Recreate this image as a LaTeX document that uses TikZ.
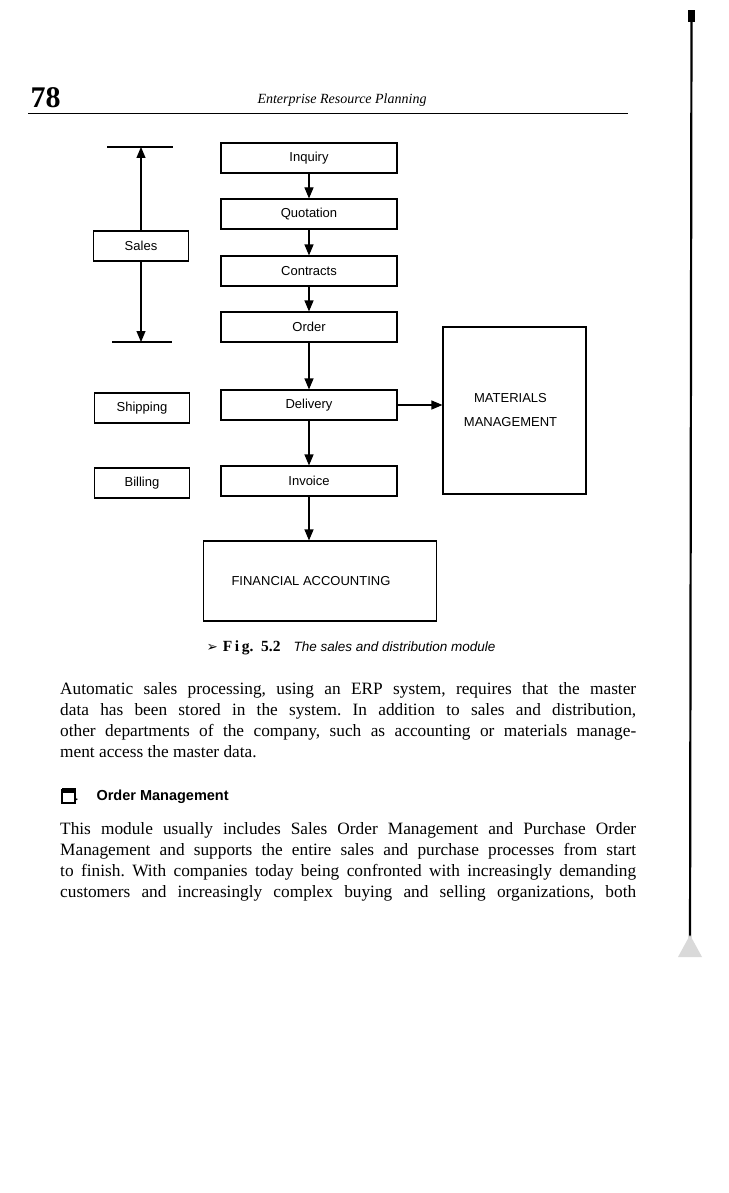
\documentclass[tikz,border=0pt]{standalone}
\usepackage{fontspec}
\setmainfont{Liberation Serif}
\setsansfont{Liberation Sans}
\newfontfamily\symfont{DejaVu Sans}
\usetikzlibrary{arrows.meta,positioning}
\frenchspacing

\tikzset{
  stagebox/.style={draw, line width=1.1pt, minimum width=176pt, minimum height=30pt,
    inner sep=0pt, font=\sffamily\fontsize{13}{15}\selectfont},
  sidebox/.style={stagebox, minimum width=95pt},
  bigbox/.style={stagebox, align=center},
  flow/.style={->, line width=1.1pt},
  bodytext/.style={anchor=north west, text width=576pt, align=justify, inner sep=0pt,
    font=\fontsize{17.3}{21}\selectfont}
}

\begin{document}
\begin{tikzpicture}[x=1pt, y=-1pt, >={Triangle[length=11pt,width=9pt]},
  node distance=56pt, on grid]
\useasboundingbox (0,0) rectangle (728,1193);
\fill[white] (0,0) rectangle (728,1193);

% running head
\node [anchor=base west, font=\bfseries\fontsize{30}{30}\selectfont] (pageno) at (27,108) {78};
\node [anchor=base, font=\itshape\fontsize{14}{16}\selectfont] (runhead) at (342,104) {Enterprise Resource Planning};
\draw [line width=1pt] (28,114) -- (628,114);

% the sales chain
\node [stagebox] (inquiry) at (309,158) {Inquiry};
\node [stagebox] (quotation) [below = of inquiry] {Quotation};
\node [stagebox] (contracts) [below = 57pt of quotation] {Contracts};
\node [stagebox] (order) [below = of contracts] {Order};
\node [stagebox] (delivery) [below = 78pt of order] {Delivery};
\node [stagebox] (invoice) [below = 76pt of delivery] {Invoice};
\node [bigbox, minimum width=233pt, minimum height=80pt] (finance) at (320,581) {FINANCIAL ACCOUNTING\hspace*{18pt}};
\node [bigbox, minimum width=143pt, minimum height=167pt,
  font=\sffamily\fontsize{13}{24}\selectfont] (materials) at (514.5,410.5) {MATERIALS\hspace*{8pt}\\MANAGEMENT\hspace*{8pt}};

% phases on the left
\node [sidebox] (sales) at (141,246) {Sales};
\node [sidebox] (shipping) at (142,408) {Shipping};
\node [sidebox] (billing) at (142,483) {Billing};
\coordinate (salestop) at (141,147);
\coordinate (salesend) at (141,342);

\path [flow]
(inquiry) edge (quotation)
(quotation) edge (contracts)
(contracts) edge (order)
(order) edge (delivery)
(delivery) edge (invoice)
(invoice) edge (invoice |- finance.north)
(delivery.east) edge (delivery.east -| materials.west)
(sales) edge (salestop)
(sales) edge (salesend);
\draw [line width=1.1pt] ([xshift=-34pt]salestop) -- ([xshift=32pt]salestop);
\draw [line width=1.1pt] ([xshift=-29pt]salesend) -- ([xshift=31pt]salesend);

% caption
\node [anchor=base west, font=\fontsize{13.5}{16}\selectfont] (caption) at (203,651)
  {{\symfont ➢}\hspace{5pt}{\bfseries\fontsize{15.5}{16}\selectfont F\,i\,g.\ \ 5.2}\hspace{13pt}{\sffamily\itshape The sales and distribution module}};

% text of the page
\node [bodytext] (para1) at (60,682) {Automatic sales processing, using an ERP system, requires that the master\linebreak
data has been stored in the system. In addition to sales and distribution,\linebreak
other departments of the company, such as accounting or materials manage-\linebreak
ment access the master data.};

\draw [line width=1.3pt] (62,790) rectangle (75,803);
\fill (61.5,788) rectangle (75.5,792.5);
\fill (75,798) -- (78,799) -- (75,801) -- cycle;
\node [anchor=base west, font=\sffamily\bfseries\fontsize{14.5}{16}\selectfont] (heading) at (93,800) {Order Management};

\node [bodytext] (para2) at (60,822) {\parfillskip=0pt This module usually includes Sales Order Management and Purchase Order\linebreak
Management and supports the entire sales and purchase processes from start\linebreak
to finish. With companies today being confronted with increasingly demanding\linebreak
customers and increasingly complex buying and selling organizations, both\par};

% edge of the scanned page
\fill (688,10) rectangle (695,22);
\draw [line width=2.2pt] (691.5,12) -- (690,955);
\fill [black!15] (678,957) -- (690,935) -- (702,957) -- cycle;
\end{tikzpicture}
\end{document}
